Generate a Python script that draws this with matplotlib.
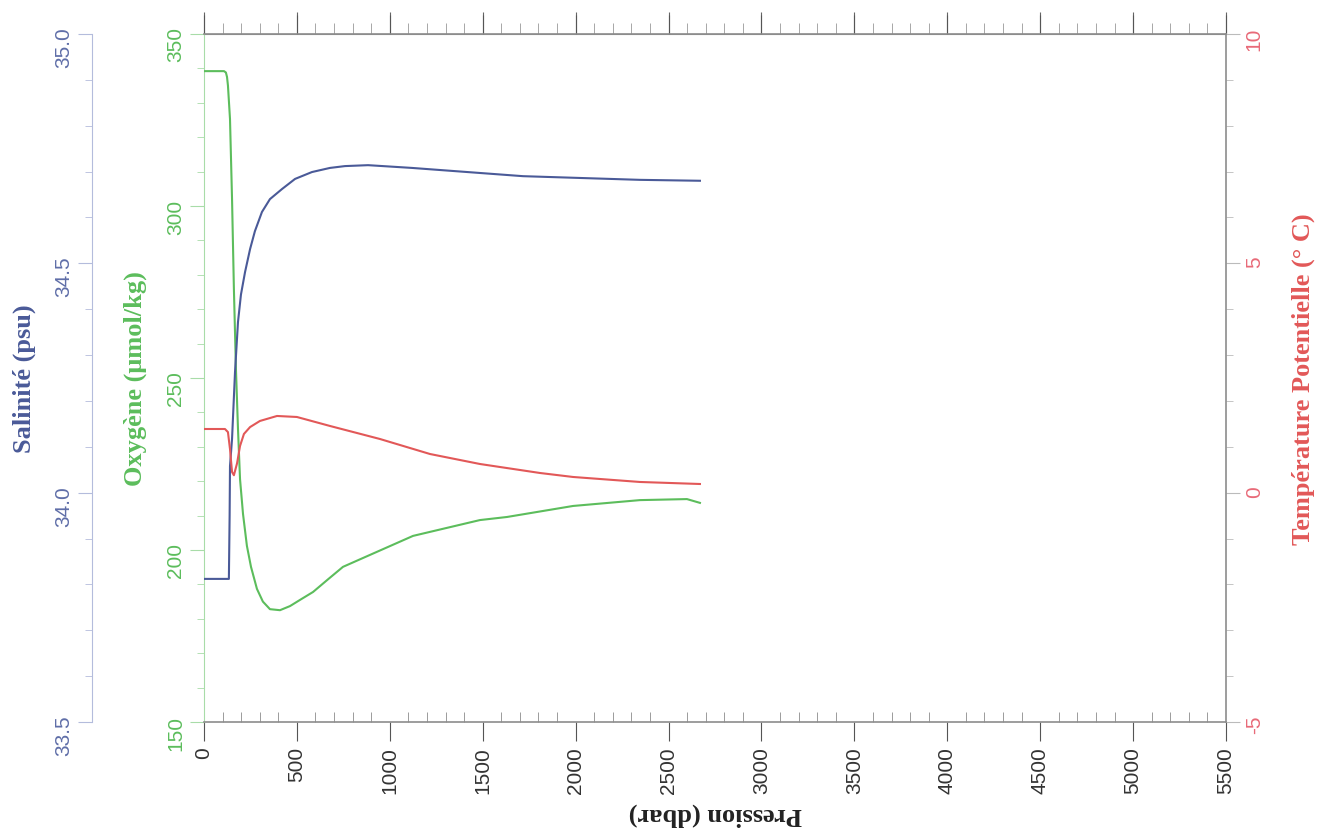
import matplotlib
matplotlib.use("Agg")
import matplotlib.pyplot as plt
from matplotlib.ticker import MultipleLocator

plt.rcParams["axes.unicode_minus"] = False

# profile (pressure in dbar)
sal_p = [0, 134, 138, 140, 151, 167, 183, 199, 221, 248, 274, 312, 355, 420, 490, 581, 678,
         759, 883, 1119, 1351, 1717, 2346, 2669]
sal_v = [33.812, 33.812, 33.95, 34.058, 34.117, 34.263, 34.372, 34.432, 34.481, 34.531, 34.570,
         34.612, 34.640, 34.662, 34.684, 34.699, 34.708, 34.712, 34.714, 34.708, 34.701, 34.690,
         34.682, 34.680]

oxy_p = [0, 108, 118, 124, 129, 140, 151, 161, 172, 183, 194, 210, 231, 253, 285, 317, 355,
         409, 463, 517, 587, 668, 748, 840, 1125, 1485, 1631, 1986, 2346, 2599, 2669]
oxy_v = [339.2, 339.2, 338.8, 337.5, 335.0, 325.3, 302.0, 275.9, 252.6, 235.2, 220.6, 210.5,
         201.2, 195.1, 188.7, 185.0, 182.8, 182.5, 183.7, 185.5, 187.8, 191.5, 195.1, 197.3,
         204.1, 208.7, 209.6, 212.8, 214.5, 214.8, 213.7]

tmp_p = [0, 113, 129, 140, 151, 161, 178, 194, 215, 248, 301, 393, 500, 678, 947, 1216, 1485,
         1808, 1986, 2346, 2669]
tmp_v = [1.388, 1.388, 1.32, 0.95, 0.45, 0.38, 0.64, 1.018, 1.28, 1.43, 1.563, 1.672, 1.650,
         1.454, 1.170, 0.843, 0.625, 0.429, 0.342, 0.233, 0.189]

c_sal, c_sal_txt, c_sal_ax = "#4a5a98", "#5f6ea8", "#b4bcdc"
c_oxy, c_oxy_ax = "#5cbd5c", "#a8dca8"
c_tmp, c_tmp_txt = "#e25858", "#e86a78"
grey = "#8c8c8c"

tickfont = "Liberation Sans"
ticksize = 15
labfont = {"family": "Liberation Serif", "weight": "bold", "size": 19}

fig = plt.figure(figsize=(13.28, 8.37), dpi=100)
ax = fig.add_axes([0.1536, 0.1362, 0.7696, 0.822])
ax_s = ax.twinx()
ax_t = ax.twinx()

# oxygen on the main left axis
ax.plot(oxy_p, oxy_v, color=c_oxy, lw=1.5, zorder=3)
ax.set_xlim(0, 5500)
ax.set_ylim(150, 350)
ax.yaxis.set_major_locator(MultipleLocator(50))
ax.yaxis.set_minor_locator(MultipleLocator(10))
ax.xaxis.set_major_locator(MultipleLocator(500))
ax.xaxis.set_minor_locator(MultipleLocator(100))
for s in ["top", "bottom"]:
    ax.spines[s].set_color(grey)
    ax.spines[s].set_linewidth(1.2)
ax.spines["left"].set_color(c_oxy_ax)
ax.spines["right"].set_visible(False)
ax.tick_params(axis="y", which="both", colors=c_oxy_ax, labelcolor=c_oxy, labelrotation=90,
               labelsize=ticksize, direction="out")
ax.tick_params(axis="y", which="major", length=10)
ax.tick_params(axis="y", which="minor", length=5)
ax.tick_params(axis="x", which="major", direction="out", length=14, colors="#555555",
               labelcolor="#333333", labelrotation=90, labelsize=ticksize, top=True)
ax.tick_params(axis="x", which="minor", direction="in", length=7, colors=grey, top=False)
for lab in ax.get_xticklabels() + ax.get_yticklabels():
    lab.set_family(tickfont)
ax.set_xlabel("Pression (dbar)", rotation=180, fontdict=labfont, color="#222222", labelpad=6)
ax.set_ylabel("Oxygène (μmol/kg)", fontdict=labfont, color=c_oxy, labelpad=14)

# top axis: ticks only, pointing up
top = ax.secondary_xaxis("top")
top.xaxis.set_major_locator(MultipleLocator(500))
top.xaxis.set_minor_locator(MultipleLocator(100))
top.tick_params(which="major", direction="out", length=16, colors="#666666", labeltop=False)
top.tick_params(which="minor", direction="out", length=8, colors="#999999")
top.spines["top"].set_color(grey)

# salinity on an offset left axis
ax_s.plot(sal_p, sal_v, color=c_sal, lw=1.5, zorder=3)
ax_s.set_ylim(33.5, 35.0)
for s in ["top", "bottom", "right"]:
    ax_s.spines[s].set_visible(False)
ax_s.spines["left"].set_visible(True)
ax_s.spines["left"].set_position(("axes", -0.1096))
ax_s.spines["left"].set_color(c_sal_ax)
ax_s.yaxis.set_ticks_position("left")
ax_s.yaxis.set_label_position("left")
ax_s.yaxis.set_major_locator(MultipleLocator(0.5))
ax_s.yaxis.set_minor_locator(MultipleLocator(0.1))
ax_s.yaxis.set_major_formatter(plt.FormatStrFormatter("%.1f"))
ax_s.tick_params(axis="y", which="both", colors=c_sal_ax, labelcolor=c_sal_txt, labelrotation=90,
                 labelsize=ticksize, direction="out")
ax_s.tick_params(axis="y", which="major", length=10)
ax_s.tick_params(axis="y", which="minor", length=5)
for lab in ax_s.get_yticklabels():
    lab.set_family(tickfont)
ax_s.set_ylabel("Salinité (psu)", fontdict=labfont, color=c_sal, labelpad=13)

# temperature on the right axis
ax_t.plot(tmp_p, tmp_v, color=c_tmp, lw=1.5, zorder=3)
ax_t.set_ylim(-5, 10)
for s in ["top", "bottom", "left"]:
    ax_t.spines[s].set_visible(False)
ax_t.spines["right"].set_color(grey)
ax_t.spines["right"].set_linewidth(1.2)
ax_t.yaxis.set_major_locator(MultipleLocator(5))
ax_t.yaxis.set_minor_locator(MultipleLocator(1))
ax_t.tick_params(axis="y", which="both", colors="#bbbbbb", labelcolor=c_tmp_txt, labelrotation=90,
                 labelsize=ticksize, direction="out")
ax_t.tick_params(axis="y", which="major", length=10)
ax_t.tick_params(axis="y", which="minor", length=5)
for lab in ax_t.get_yticklabels():
    lab.set_family(tickfont)
ax_t.set_ylabel("Température Potentielle (° C)", fontdict=labfont, color=c_tmp, labelpad=20)

fig.savefig("out.png", dpi=100)
